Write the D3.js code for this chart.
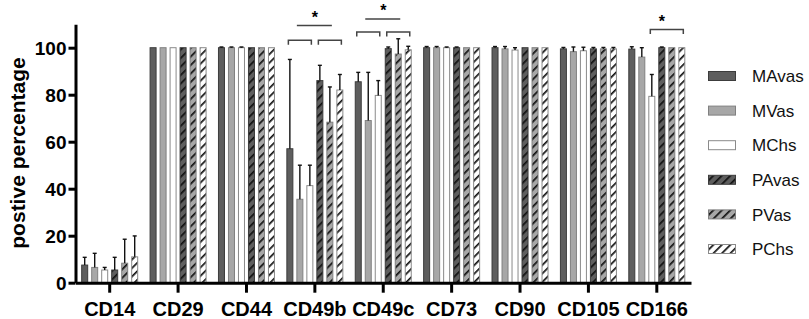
<!doctype html>
<html>
<head>
<meta charset="utf-8">
<script src="https://cdn.jsdelivr.net/npm/d3@7/dist/d3.min.js"></script>
<style>
  body { margin: 0; background: #fff; }
  svg { display: block; font-family: "Liberation Sans", Arial, sans-serif; }
</style>
</head>
<body>
<svg width="809" height="319"></svg>
<script>
// data
var categories = ["CD14", "CD29", "CD44", "CD49b", "CD49c", "CD73", "CD90", "CD105", "CD166"];
var series = ["MAvas", "MVas", "MChs", "PAvas", "PVas", "PChs"];

var MAvas = [7.5, 100, 100, 57, 85.5, 100, 100, 99.5, 99.4];
var MVas  = [6.5, 100, 100, 35.5, 69, 100, 99.5, 98.3, 96];
var MChs  = [5.4, 100, 100, 41.3, 79.7, 100, 99, 98.7, 79.3];
var PAvas = [5.4, 100, 100, 86, 99.6, 100, 100, 99.5, 100];
var PVas  = [8.3, 100, 100, 68.3, 97.3, 100, 100, 99.5, 100];
var PChs  = [11, 100, 100, 82, 99.1, 100, 100, 99.5, 100];

var MAvasErr = [3.3, 0, 0.3, 38, 4, 0.5, 0.5, 0.6, 1];
var MVasErr  = [6, 0, 0.3, 14.5, 20.5, 0.5, 1, 2, 4];
var MChsErr  = [1.1, 0, 0.3, 8.7, 6.3, 0.3, 1, 1.5, 9.3];
var PAvasErr = [5.4, 0, 0, 6.5, 0.7, 0.3, 0, 0.6, 0.3];
var PVasErr  = [10.2, 0, 0, 15, 6.5, 0, 0, 0.6, 0];
var PChsErr  = [8.9, 0, 0, 6.6, 1.5, 0, 0, 0.6, 0];

var yTicks = [0, 20, 40, 60, 80, 100];

// significance brackets: category, first bar, last bar, level
var brackets = [
  ["CD49b", "MAvas", "MChs", 103.2],
  ["CD49b", "PAvas", "PChs", 103.2],
  ["CD49c", "MAvas", "MChs", 106.7],
  ["CD49c", "PAvas", "PChs", 106.7],
  ["CD166", "MChs", "PChs", 107.7]
];
// connecting lines over two brackets and stars
var joins = [["CD49b", 109.5], ["CD49c", 112.2]];
var stars = [["CD49b", "MChs", "PAvas", 114.5], ["CD49c", "MChs", "PAvas", 117.5], ["CD166", "PAvas", "PAvas", 112.8]];

var values = {MAvas: MAvas, MVas: MVas, MChs: MChs, PAvas: PAvas, PVas: PVas, PChs: PChs};
var errors = {MAvas: MAvasErr, MVas: MVasErr, MChs: MChsErr, PAvas: PAvasErr, PVas: PVasErr, PChs: PChsErr};

var fills = {MAvas: "#5e5e5e", MVas: "#a7a7a7", MChs: "#ffffff", PAvas: "#5e5e5e", PVas: "#a7a7a7", PChs: "#ffffff"};
var strokes = {MAvas: "#3c3c3c", MVas: "#808080", MChs: "#8a8a8a", PAvas: "#3c3c3c", PVas: "#808080", PChs: "#8a8a8a"};
var hatched = {PAvas: true, PVas: true, PChs: true};

var svg = d3.select("svg");

var x = d3.scaleBand().domain(categories).range([75.5, 691]);
var xInner = d3.scaleBand().domain(series).range([-28.5, 28.5]).paddingInner(0.3);
var y = d3.scaleLinear().domain([0, 110]).range([282.7, 24.2]);

var defs = svg.append("defs");
series.forEach(function(s) {
  if (!hatched[s]) return;
  var p = defs.append("pattern")
    .attr("id", "h-" + s)
    .attr("patternUnits", "userSpaceOnUse")
    .attr("width", 6).attr("height", 6)
    .attr("patternTransform", "rotate(45)");
  p.append("rect").attr("width", 6).attr("height", 6).attr("fill", fills[s]);
  p.append("rect").attr("width", 1.7).attr("height", 6).attr("fill", "#111");
});

function fillOf(s) { return hatched[s] ? "url(#h-" + s + ")" : fills[s]; }

// bars
var rows = [];
categories.forEach(function(c, i) {
  series.forEach(function(s) {
    rows.push({cat: c, s: s, v: values[s][i], e: errors[s][i]});
  });
});

var g = svg.append("g");
g.selectAll("rect.bar").data(rows).enter().append("rect")
  .attr("class", "bar")
  .attr("x", d => x(d.cat) + x.bandwidth() / 2 + xInner(d.s) + 0.5)
  .attr("y", d => y(d.v))
  .attr("width", xInner.bandwidth() - 1)
  .attr("height", d => y(0) - y(d.v))
  .attr("fill", d => fillOf(d.s))
  .attr("stroke", d => strokes[d.s])
  .attr("stroke-width", 1);

// error bars (upper only)
var eb = g.selectAll("g.err").data(rows.filter(d => d.e > 0)).enter().append("g")
  .attr("transform", d => "translate(" + (x(d.cat) + x.bandwidth() / 2 + xInner(d.s) + xInner.bandwidth() / 2) + ",0)");
eb.append("line")
  .attr("y1", d => y(d.v)).attr("y2", d => y(d.v + d.e))
  .attr("stroke", "#111").attr("stroke-width", 1.4);
eb.append("line")
  .attr("x1", -2).attr("x2", 2)
  .attr("y1", d => y(d.v + d.e)).attr("y2", d => y(d.v + d.e))
  .attr("stroke", "#111").attr("stroke-width", 1.4);

// axes
var yAxis = svg.append("g").attr("transform", "translate(75.5,0)")
  .call(d3.axisLeft(y).tickValues(yTicks).tickSize(7).tickSizeOuter(0).tickPadding(2));
var xAxis = svg.append("g").attr("transform", "translate(0," + y(0) + ")")
  .call(d3.axisBottom(x).tickSize(10).tickSizeOuter(0).tickPadding(9));

[yAxis, xAxis].forEach(function(a) {
  a.select(".domain").attr("stroke", "#000").attr("stroke-width", 3);
  a.selectAll(".tick line").attr("stroke", "#000").attr("stroke-width", 3);
  a.selectAll("text").attr("fill", "#000")
    .style("font-family", "'Liberation Sans', Arial, sans-serif")
    .style("font-weight", "bold").style("font-size", "19px");
});
xAxis.selectAll("text").attr("dy", "0.71em").style("font-size", "20px");
yAxis.selectAll("text").attr("dy", "0.36em");

svg.append("text")
  .attr("transform", "translate(25,153) rotate(-90)")
  .attr("text-anchor", "middle")
  .style("font-weight", "bold").style("font-size", "21px")
  .text("postive percentage");

// significance marks
function cx(cat, s) { return x(cat) + x.bandwidth() / 2 + xInner(s) + xInner.bandwidth() / 2; }

var sig = svg.append("g").attr("stroke", "#444").attr("stroke-width", 1.5).attr("fill", "none");
brackets.forEach(function(b) {
  var x1 = cx(b[0], b[1]) - 1.5, x2 = cx(b[0], b[2]) + 1.5, yy = y(b[3]);
  sig.append("path").attr("d", "M" + x1 + "," + (yy + 4.5) + "V" + yy + "H" + x2 + "V" + (yy + 4.5));
});
joins.forEach(function(j) {
  var bs = brackets.filter(b => b[0] === j[0]);
  var m1 = (cx(bs[0][0], bs[0][1]) + cx(bs[0][0], bs[0][2])) / 2 - 3;
  var m2 = (cx(bs[1][0], bs[1][1]) + cx(bs[1][0], bs[1][2])) / 2 + 2;
  sig.append("line").attr("x1", m1).attr("x2", m2).attr("y1", y(j[1])).attr("y2", y(j[1]));
});
stars.forEach(function(s) {
  svg.append("text")
    .attr("x", (cx(s[0], s[1]) + cx(s[0], s[2])) / 2)
    .attr("y", y(s[3]) + 9)
    .attr("text-anchor", "middle")
    .style("font-weight", "bold").style("font-size", "16px")
    .text("*");
});

// legend
var leg = svg.append("g").selectAll("g").data(series).enter().append("g")
  .attr("transform", (d, i) => "translate(708," + (76 + i * 34.6) + ")");
leg.append("rect")
  .attr("x", 0.5).attr("y", -4.5).attr("width", 27).attr("height", 9)
  .attr("fill", d => fillOf(d)).attr("stroke", d => strokes[d]).attr("stroke-width", 1);
leg.append("text")
  .attr("x", 44).attr("y", 0).attr("dy", "0.36em")
  .style("font-size", "17px").attr("fill", "#111")
  .text(d => d);
</script>
</body>
</html>
